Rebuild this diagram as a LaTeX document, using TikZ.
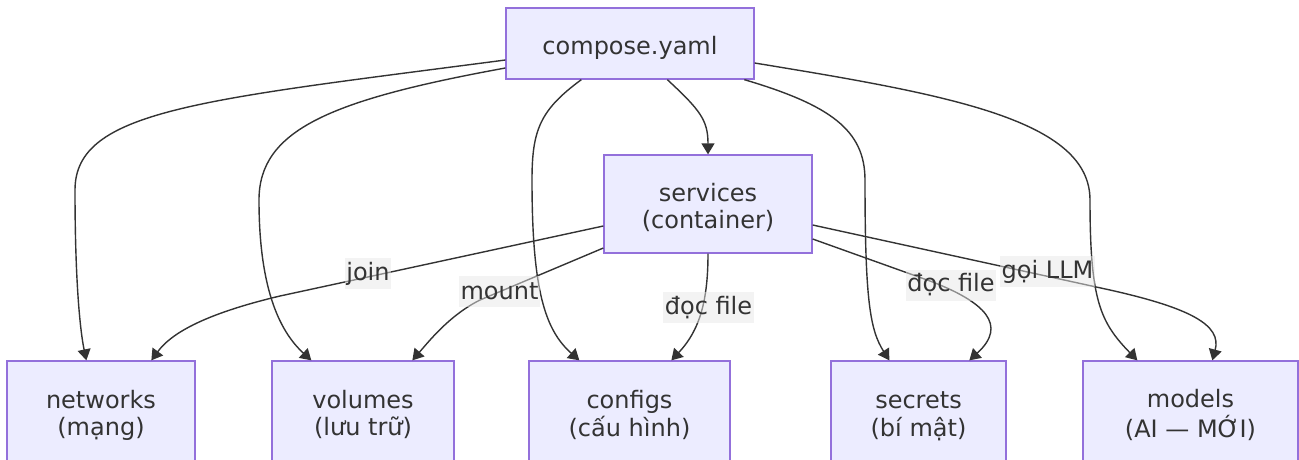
\documentclass[tikz,border=0pt]{standalone}
\usepackage{fontspec}
\setmainfont{DejaVu Sans}
\usetikzlibrary{arrows.meta}
\definecolor{boxfill}{HTML}{ECECFF}
\definecolor{boxline}{HTML}{9370DB}
\definecolor{ink}{HTML}{333333}
\definecolor{lblbg}{HTML}{E8E8E8}
\newcommand\boxtxt[1]{\raisebox{-6pt}[\height][\depth]{\begin{tabular}{@{}c@{}}#1\end{tabular}}}
\tikzset{
  box/.style={draw=boxline, fill=boxfill, line width=1.3pt, text=ink,
    font=\fontsize{24}{27}\selectfont, inner sep=0pt},
  edge/.style={draw=ink, line width=1.4pt, -{Triangle[length=11pt,width=13pt]}},
  lbl/.style={fill=lblbg, fill opacity=0.5, text opacity=1, text=ink, inner xsep=1.5pt,
    inner ysep=0pt, minimum height=31pt, font=\fontsize{24}{27}\selectfont}
}
\begin{document}
\begin{tikzpicture}[x=1pt,y=-1pt]
\useasboundingbox (0,0) rectangle (1299,459);
% nodes
\node[box, minimum width=248pt, minimum height=71pt] (compose) at (630,43.5) {\boxtxt{compose.yaml}};
\node[box, minimum width=208pt, minimum height=98pt] (services) at (708,204) {\boxtxt{services\\(container)}};
\node[box, minimum width=188pt, minimum height=100pt] (networks) at (101,411) {\boxtxt{networks\\(mạng)}};
\node[box, minimum width=182pt, minimum height=100pt] (volumes) at (363,411) {\boxtxt{volumes\\(lưu trữ)}};
\node[box, minimum width=201pt, minimum height=100pt] (configs) at (629.5,411) {\boxtxt{configs\\(cấu hình)}};
\node[box, minimum width=175pt, minimum height=100pt] (secrets) at (918.5,411) {\boxtxt{secrets\\(bí mật)}};
\node[box, minimum width=215pt, minimum height=100pt] (models) at (1190.5,411) {\boxtxt{models\\(AI — MỚI)}};
% edges from compose
\draw[edge] ([yshift=-16.5pt]compose.west) .. controls (200,100) and (75,110) .. (75,190)
  .. controls (75,280) and (80,330) .. ([xshift=80pt]networks.north west);
\draw[edge] ([yshift=-24.5pt]compose.west) .. controls (330,100) and (259,130) .. (259,200)
  .. controls (259,285) and (278,330) .. ([xshift=40pt]volumes.north west);
\draw[edge] ([xshift=76pt]compose.south west) .. controls (540,110) and (532,130) .. (532,180)
  .. controls (532,290) and (545,330) .. ([xshift=51pt]configs.north west);
\draw[edge] ([xshift=162pt]compose.south west) .. controls (700,110) and (708,120) .. (services.north);
\draw[edge] ([xshift=239pt]compose.south west) .. controls (830,105) and (865,130) .. (865,180)
  .. controls (865,300) and (870,330) .. ([xshift=59pt]secrets.north west);
\draw[edge] ([yshift=-19.5pt]compose.east) .. controls (950,95) and (1090,120) .. (1090,200)
  .. controls (1090,300) and (1100,322) .. ([xshift=55pt]models.north west);
% edges from services
\draw[edge] ([yshift=-22pt]services.west) -- (280,296) .. controls (200,315) and (170,335) .. ([xshift=145pt]networks.north west);
\draw[edge] ([yshift=-44pt]services.west) -- (480,300) .. controls (450,315) and (430,340) .. ([xshift=141pt]volumes.north west);
\draw[edge] (services.south) .. controls (708,300) and (700,330) .. ([xshift=143pt]configs.north west);
\draw[edge] ([yshift=-35pt]services.east) -- (930,281) .. controls (985,302) and (1008,325) .. ([xshift=139pt]secrets.north west);
\draw[edge] ([yshift=-21pt]services.east) -- (1110,290) .. controls (1190,308) and (1222,325) .. ([xshift=130pt]models.north west);
% labels
\node[lbl] (ljoin) at (368,273.5) {join};
\node[lbl] (lmount) at (499.5,291.5) {mount};
\node[lbl] (lcfg) at (708.5,307.5) {đọc file};
\node[lbl] (lsec) at (951,285) {đọc file};
\node[lbl] (lllm) at (1047.5,271.5) {gọi LLM};
\end{tikzpicture}
\end{document}
